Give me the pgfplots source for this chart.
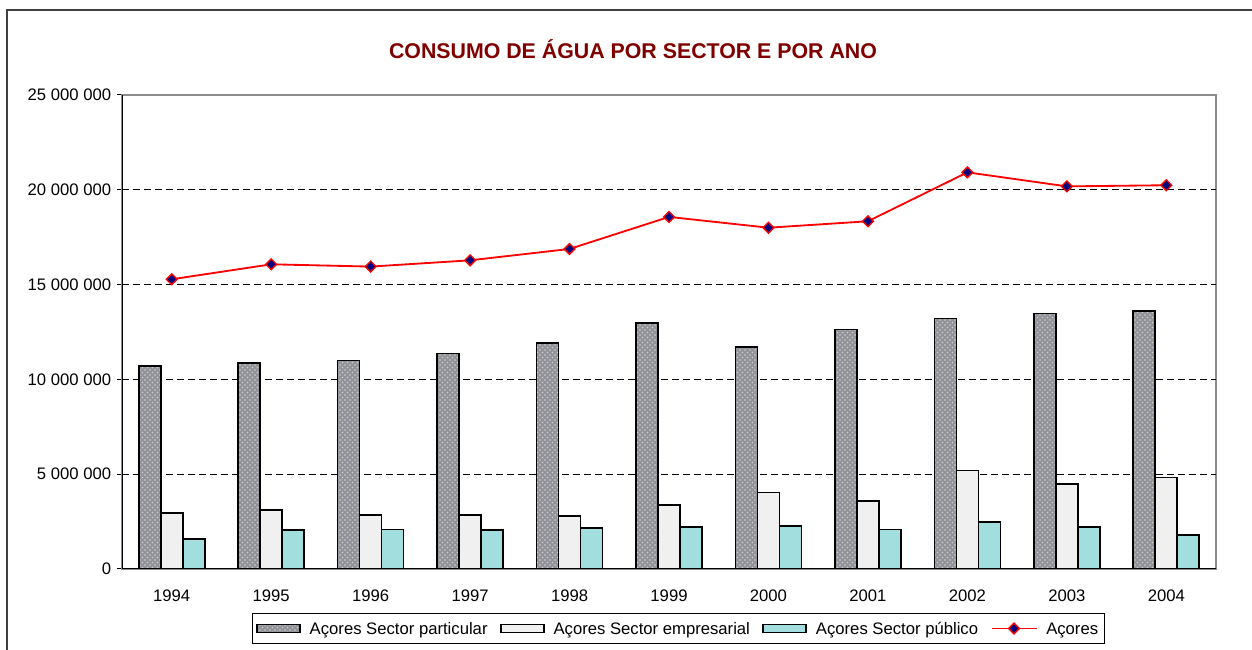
\documentclass[border=0pt]{standalone}
\usepackage{pgfplots}
\pgfplotsset{compat=1.18}
\usepackage{pgfplotstable}
\usepackage{fontspec}
\setmainfont{Liberation Sans}
\usetikzlibrary{patterns}
\definecolor{titlered}{RGB}{128,0,0}
\definecolor{partgray}{RGB}{145,147,152}
\definecolor{empgray}{RGB}{240,240,240}
\definecolor{pubcyan}{RGB}{162,222,222}
\definecolor{navyd}{RGB}{0,0,128}
\definecolor{framegray}{RGB}{64,64,64}
\definecolor{bordergray}{RGB}{140,140,140}

\pgfplotsset{
  boxlegend/.style={legend image code/.code={\draw[##1] (0pt,-2.4pt) rectangle (25.8pt,2.4pt);}},
  marklegend/.style={legend image code/.code={\draw[##1, mark repeat=2, mark phase=2] plot coordinates {(0pt,0pt) (13.5pt,0pt) (27pt,0pt)};}},
}

\pgfplotstableread{
x part emp pub total
0 10720000 2970000 1570000 15280000
1 10880000 3100000 2070000 16070000
2 10990000 2850000 2090000 15950000
3 11360000 2860000 2040000 16280000
4 11920000 2780000 2150000 16880000
5 12970000 3360000 2220000 18570000
6 11710000 4030000 2270000 18000000
7 12640000 3570000 2090000 18340000
8 13220000 5200000 2480000 20920000
9 13480000 4480000 2200000 20180000
10 13590000 4820000 1790000 20240000
}\datatable

\begin{document}
\begin{tikzpicture}
\useasboundingbox (0,0) rectangle (751.2pt,390pt);
\draw[framegray, line width=1.2pt] (4.2pt,-20pt) -- (4.2pt,384pt) -- (800pt,384pt);
\node[font=\bfseries\fontsize{12.8}{15}\selectfont, text=titlered] at (379.8pt,360.6pt) {CONSUMO DE ÁGUA POR SECTOR E POR ANO};
\begin{axis}[
  at={(73.2pt,48.6pt)}, anchor=south west,
  scale only axis, width=656.4pt, height=284.4pt,
  xmin=-0.5, xmax=10.5, ymin=0, ymax=25000000,
  ybar=0pt, bar width=13.2pt,
  xtick={0,...,10},
  xticklabels={1994,1995,1996,1997,1998,1999,2000,2001,2002,2003,2004},
  minor xtick={-0.5,0.5,...,10.5},
  xtick style={draw=none},
  minor x tick style={black, line width=0.6pt},
  minor tick length=3.4pt,
  ytick={0,5000000,10000000,15000000,20000000,25000000},
  ytick style={black, line width=0.6pt},
  major tick length=3pt,
  tick align=outside,
  tick pos=left,
  scaled y ticks=false,
  /pgf/number format/fixed,
  /pgf/number format/1000 sep={\ },
  /pgf/number format/assume math mode=true,
  ticklabel style={font=\fontsize{10}{12}\selectfont, text=black},
  xticklabel style={yshift=-6pt},
  extra y ticks={5000000,10000000,15000000,20000000},
  extra y tick labels={},
  extra y tick style={grid=major, major tick length=0pt},
  major grid style={black, line width=0.6pt, dash pattern=on 4pt off 2.6pt},
  axis line style={draw=bordergray, line width=0.9pt},
  legend columns=4,
  legend style={at={(0.509,-0.1255)}, anchor=center, draw=black, line width=0.6pt,
    font=\fontsize{10}{12}\selectfont, inner sep=2pt,
    /tikz/every odd column/.append style={column sep=3.3pt},
    /tikz/every even column/.append style={column sep=5.5pt}},
  legend cell align=left,
]
\addplot[draw=black, line width=1pt, fill=partgray,
  postaction={pattern=crosshatch dots, pattern color=white!55!partgray}, boxlegend]
  table[x=x, y=part] {\datatable};
\addlegendentry{\strut Açores Sector particular}
\addplot[draw=black, line width=1pt, fill=empgray, boxlegend]
  table[x=x, y=emp] {\datatable};
\addlegendentry{\strut Açores Sector empresarial}
\addplot[draw=black, line width=1pt, fill=pubcyan, boxlegend]
  table[x=x, y=pub] {\datatable};
\addlegendentry{\strut Açores Sector público}
\addplot[sharp plot, red, line width=1.1pt, mark=square*, 
  mark options={rotate=45, fill=navyd, draw=red, line width=0.8pt, mark size=2.3pt}, marklegend]
  table[x=x, y=total] {\datatable};
\addlegendentry{\strut Açores}
\draw[black, line width=0.7pt] (rel axis cs:0,1) -- (rel axis cs:0,0) -- (rel axis cs:1,0);
\end{axis}
\end{tikzpicture}
\end{document}
